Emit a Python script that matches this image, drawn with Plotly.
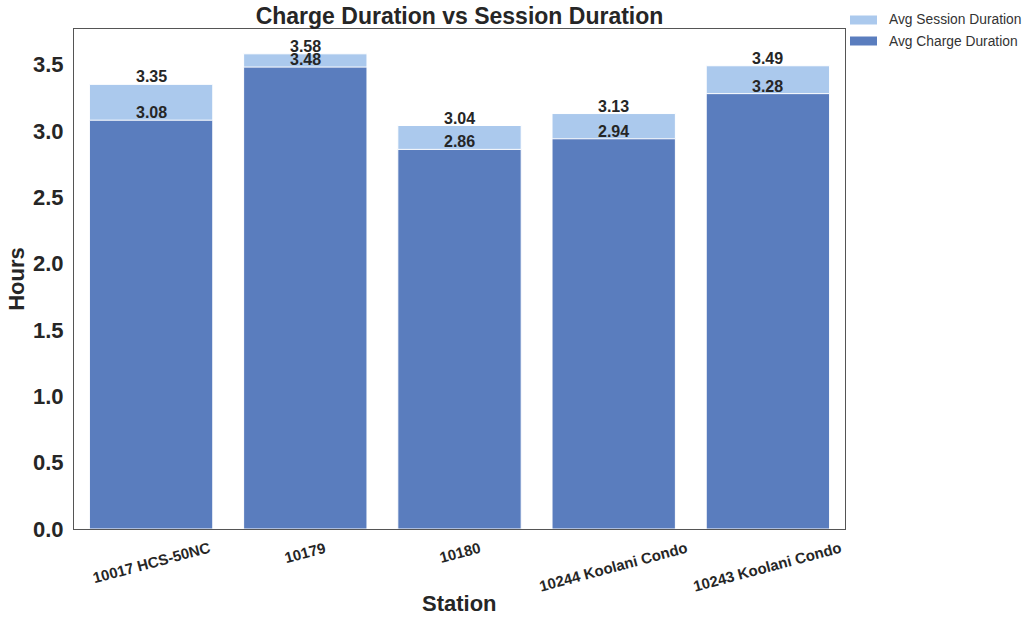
import plotly.graph_objects as go

stations = ["10017 HCS-50NC", "10179", "10180", "10244 Koolani Condo", "10243 Koolani Condo"]
avg_session = [3.35, 3.58, 3.04, 3.13, 3.49]
avg_charge = [3.08, 3.48, 2.86, 2.94, 3.28]
y_ticks = [0.0, 0.5, 1.0, 1.5, 2.0, 2.5, 3.0, 3.5]

FONT = "Liberation Sans, Arial, sans-serif"
TEXT = "#262626"
LIGHT = "#abc9ed"
DARK = "#5a7dbe"

# plot-area geometry in pixels (used to place the hand-drawn legend)
L, R, T, B = 74, 845, 29, 529
W, H = R - L, B - T


def px_x(px):
    return (px - L) / W


def px_y(py):
    return (B - py) / H


idx = list(range(len(stations)))

fig = go.Figure()
series = [("Avg Session Duration", avg_session, LIGHT),
          ("Avg Charge Duration", avg_charge, DARK)]
for name, vals, color in series:
    fig.add_trace(go.Bar(
        x=idx, y=vals, name=name,
        marker=dict(color=color, line=dict(color="white", width=1)),
        width=0.8, showlegend=False,
    ))
    # value labels resting on the bar tops
    for i, v in zip(idx, vals):
        fig.add_annotation(
            x=i, y=v, xref="x", yref="y", text=f"<b>{v:.2f}</b>",
            showarrow=False, xanchor="center", yanchor="bottom", yshift=-3,
            font=dict(family=FONT, size=16, color=TEXT),
        )

# rotated station labels centred under each bar
for i, name in zip(idx, stations):
    fig.add_annotation(
        x=i, y=px_y(536), xref="x", yref="paper", text=f"<b>{name}</b>",
        showarrow=False, textangle=-15, xanchor="center", yanchor="top",
        font=dict(family=FONT, size=15, color=TEXT),
    )

# x-axis title
fig.add_annotation(
    x=0.5, y=px_y(603), xref="paper", yref="paper", text="<b>Station</b>",
    showarrow=False, xanchor="center", yanchor="middle",
    font=dict(family=FONT, size=22, color=TEXT),
)

# legend: wide swatches with labels, outside the top-right corner
for k, (name, _, color) in enumerate(series):
    cy = 20 + 21 * k
    fig.add_shape(type="rect", xref="paper", yref="paper",
                  x0=px_x(850), x1=px_x(877), y0=px_y(cy - 4.5), y1=px_y(cy + 4.5),
                  fillcolor=color, line=dict(width=0))
    fig.add_annotation(
        x=px_x(887), y=px_y(cy), xref="paper", yref="paper", text=name,
        showarrow=False, xanchor="left", yanchor="middle",
        font=dict(family=FONT, size=13.8, color="#333333"),
    )

fig.update_layout(
    width=1024, height=618,
    margin=dict(l=L, r=1024 - R, t=T, b=618 - B),
    paper_bgcolor="white", plot_bgcolor="white",
    barmode="overlay",
    font=dict(family=FONT, color=TEXT),
    title=dict(text="<b>Charge Duration vs Session Duration</b>",
               x=(L + R) / 2 / 1024, xanchor="center",
               y=1 - 16 / 618, yanchor="middle",
               font=dict(family=FONT, size=23, color=TEXT)),
    showlegend=False,
)
fig.update_xaxes(
    range=[-0.5, len(stations) - 0.5], showticklabels=False, ticks="",
    showgrid=False, zeroline=False,
    showline=True, linecolor="#555555", linewidth=1, mirror=True,
)
fig.update_yaxes(
    range=[0, 3.767], tickvals=y_ticks, ticktext=[f"<b>{v:.1f}</b>" for v in y_ticks],
    tickfont=dict(family=FONT, size=22, color=TEXT), ticks="",
    ticklabelstandoff=5,
    showgrid=False, zeroline=False,
    showline=True, linecolor="#555555", linewidth=1, mirror=True,
    title=dict(text="<b>Hours</b>", font=dict(family=FONT, size=22, color=TEXT), standoff=2),
)

fig.write_html("out.html")
